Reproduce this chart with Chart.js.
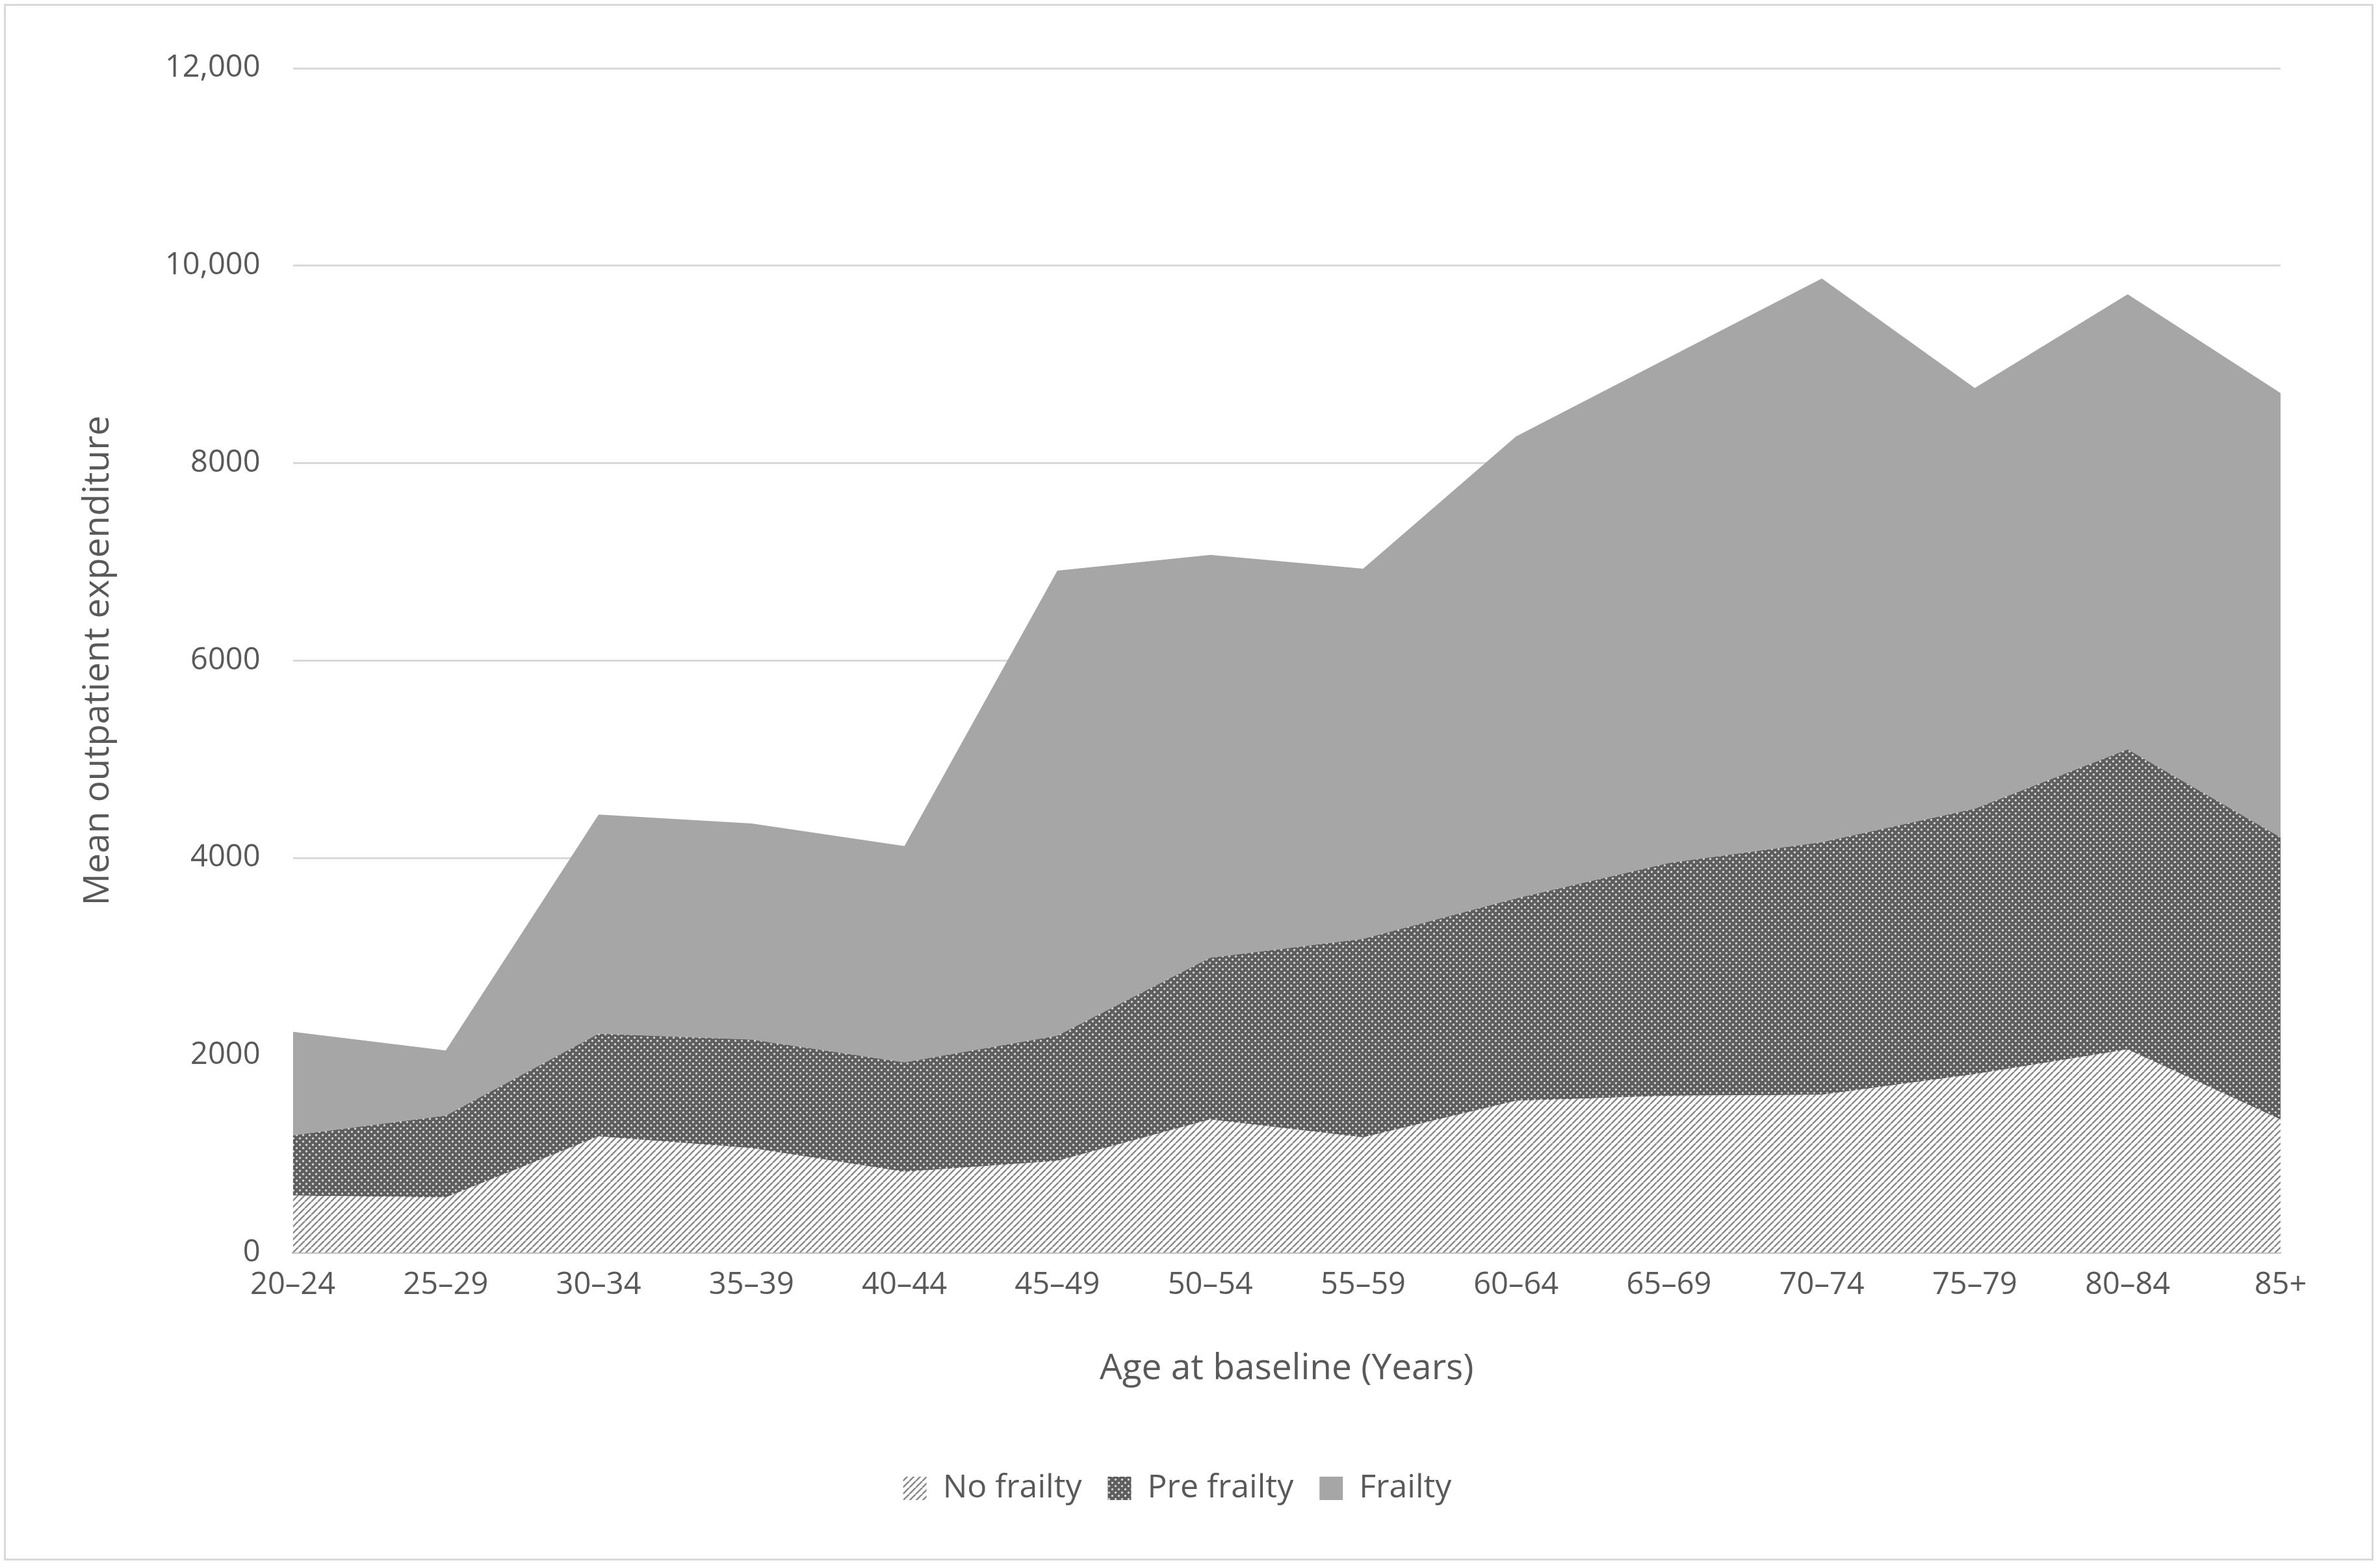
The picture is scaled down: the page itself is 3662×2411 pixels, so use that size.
<!DOCTYPE html>
<html><head><meta charset="utf-8">
<script src="https://cdn.jsdelivr.net/npm/chart.js@4/dist/chart.umd.min.js"></script>
<style>html,body{margin:0;background:#fff}#w{position:absolute;left:6px;top:6px;width:3646px;height:2395px;border:3px solid #d9d9d9;box-sizing:border-box}canvas{display:block}</style>
</head><body><div id="w"><canvas id="c"></canvas></div>
<script>
const categories=["20–24","25–29","30–34","35–39","40–44","45–49","50–54","55–59","60–64","65–69","70–74","75–79","80–84","85+"];
const noFrailty=[580,560,1180,1060,820,930,1350,1170,1540,1590,1600,1810,2060,1350];
const preFrailtyTop=[1190,1390,2220,2160,1930,2200,2990,3180,3590,3950,4160,4500,5100,4210];
const totalTop=[2240,2050,4440,4350,4120,6910,7070,6930,8270,9070,9870,8760,9710,8710];
const preFrailty=preFrailtyTop.map((v,i)=>v-noFrailty[i]);
const frailty=totalTop.map((v,i)=>v-preFrailtyTop[i]);
const yTicks=[0,2000,4000,6000,8000,10000,12000];
const yLabels=["0","2000","4000","6000","8000","10,000","12,000"];

function hatch(){const c=document.createElement('canvas');c.width=c.height=10;const g=c.getContext('2d');
g.fillStyle='#fff';g.fillRect(0,0,10,10);g.strokeStyle='#8a8a8a';g.lineWidth=2.5;
for(let k=-10;k<=20;k+=10){g.beginPath();g.moveTo(k,10);g.lineTo(k+10,0);g.stroke();}
return g.createPattern(c,'repeat');}
function dots(){const c=document.createElement('canvas');c.width=c.height=10;const g=c.getContext('2d');
g.fillStyle='#5e5e5e';g.fillRect(0,0,10,10);g.fillStyle='#d4d4d4';
g.beginPath();g.arc(2.5,2.5,1.7,0,7);g.fill();g.beginPath();g.arc(7.5,7.5,1.7,0,7);g.fill();
return g.createPattern(c,'repeat');}
const w=document.getElementById('w');const cv=document.getElementById('c');
cv.width=w.clientWidth;cv.height=w.clientHeight;
Chart.defaults.font.family="'Open Sans', 'Noto Sans', sans-serif";
Chart.defaults.color='#595959';
new Chart(cv,{type:'line',data:{labels:categories,datasets:[
{label:'No frailty',data:noFrailty,backgroundColor:hatch(),fill:'origin',borderWidth:0,pointRadius:0,tension:0},
{label:'Pre frailty',data:preFrailty,backgroundColor:dots(),fill:'-1',borderWidth:0,pointRadius:0,tension:0},
{label:'Frailty',data:frailty,backgroundColor:'#a6a6a6',fill:'-1',borderWidth:0,pointRadius:0,tension:0}]},
options:{responsive:false,animation:false,
layout:{padding:{left:105,right:140,top:96,bottom:73}},
plugins:{legend:{position:'bottom',labels:{font:{size:50},boxWidth:36,boxHeight:36,padding:40,color:'#595959'}},tooltip:{enabled:false}},
scales:{x:{offset:false,grid:{display:false,drawTicks:true,tickLength:14,color:'#bfbfbf'},border:{color:'#bfbfbf',width:3},
ticks:{font:{size:47},color:'#595959',maxRotation:0,padding:8},
title:{display:true,text:'Age at baseline (Years)',font:{size:55},color:'#595959',padding:{top:59,bottom:86}}},
y:{stacked:true,min:0,max:12000,afterBuildTicks:a=>{a.ticks=yTicks.map(v=>({value:v}));},
grid:{color:'#d9d9d9',lineWidth:3,drawTicks:false},border:{display:false},
ticks:{font:{size:47},color:'#595959',padding:50,callback:(v)=>yLabels[yTicks.indexOf(v)]},
title:{display:true,text:'Mean outpatient expenditure',font:{size:55},color:'#595959',padding:{bottom:20}}}}}});
</script></body></html>
